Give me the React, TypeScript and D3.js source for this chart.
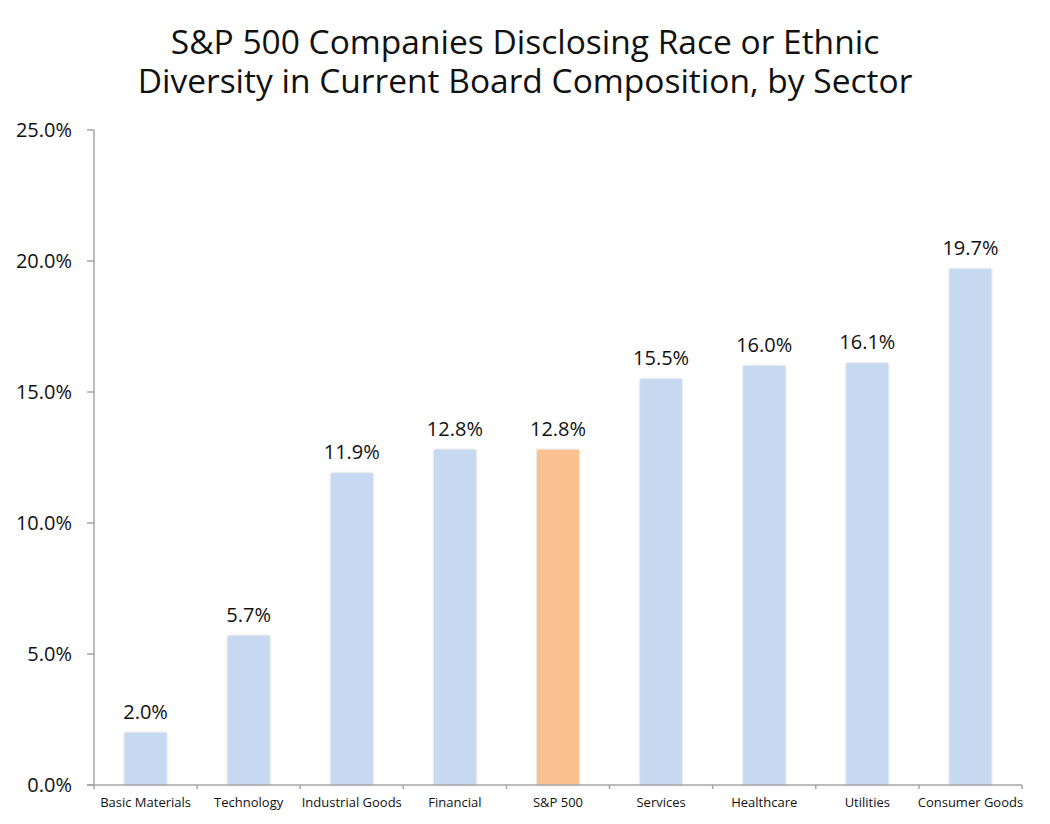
import React from "react";
import * as d3 from "d3";

const categories = ["Basic Materials", "Technology", "Industrial Goods", "Financial", "S&P 500", "Services", "Healthcare", "Utilities", "Consumer Goods"];
const values = [2.0, 5.7, 11.9, 12.8, 12.8, 15.5, 16.0, 16.1, 19.7];
const highlight = ["S&P 500"];
const yTicks = [0, 5, 10, 15, 20, 25];
const titleLines = ["S&P 500 Companies Disclosing Race or Ethnic", "Diversity in Current Board Composition, by Sector"];

const W = 1050, H = 824;
const left = 94, right = 1022, top = 130, bottom = 785;

export default function App() {
  const x = d3.scaleBand<string>().domain(categories).range([left, right]).paddingInner(0).paddingOuter(0);
  const y = d3.scaleLinear().domain([0, 25]).range([bottom, top]);
  const bw = 42;
  const font = "'Open Sans', 'Noto Sans', sans-serif";
  const axisColor = "#a6a6a6";
  const boundaries = categories.map((c) => x(c)!).concat([right]);
  return (
    <svg width={W} height={H} style={{ position: "absolute", left: 0, top: 0, background: "#fff" }} fontFamily={font}>
      <defs>
        <filter id="sh" x="-20%" y="-5%" width="140%" height="110%">
          <feDropShadow dx="0" dy="0" stdDeviation="1.2" floodColor="#000" floodOpacity="0.25" />
        </filter>
      </defs>
      {titleLines.map((t, i) => (
        <text key={i} x={525} y={54 + i * 39} textAnchor="middle" fontSize={33.5} fill="#111">{t}</text>
      ))}
      {categories.map((c, i) => {
        const cx = x(c)! + x.bandwidth() / 2;
        const v = values[i];
        const isH = highlight.includes(c);
        return (
          <g key={c}>
            <rect x={cx - bw / 2} y={y(v)} width={bw} height={bottom - y(v)} fill={isH ? "#fac090" : "#c6d9f1"} filter="url(#sh)" />
            <text x={cx} y={y(v) - 14} textAnchor="middle" fontSize={20} fill="#111">{v.toFixed(1) + "%"}</text>
            <text x={cx} y={807} textAnchor="middle" fontSize={13} fill="#111">{c}</text>
          </g>
        );
      })}
      <line x1={left} x2={left} y1={top} y2={bottom} stroke={axisColor} strokeWidth={1.5} />
      {yTicks.map((t) => (
        <g key={t}>
          <line x1={left - 7} x2={left} y1={y(t)} y2={y(t)} stroke={axisColor} strokeWidth={1.5} />
          <text x={72} y={y(t) + 7} textAnchor="end" fontSize={20} fill="#111">{t.toFixed(1) + "%"}</text>
        </g>
      ))}
      <line x1={left - 7} x2={right} y1={bottom} y2={bottom} stroke={axisColor} strokeWidth={1.5} />
      {boundaries.map((b, i) => (
        <line key={i} x1={b} x2={b} y1={bottom} y2={bottom + 4} stroke={axisColor} strokeWidth={1.5} />
      ))}
    </svg>
  );
}
